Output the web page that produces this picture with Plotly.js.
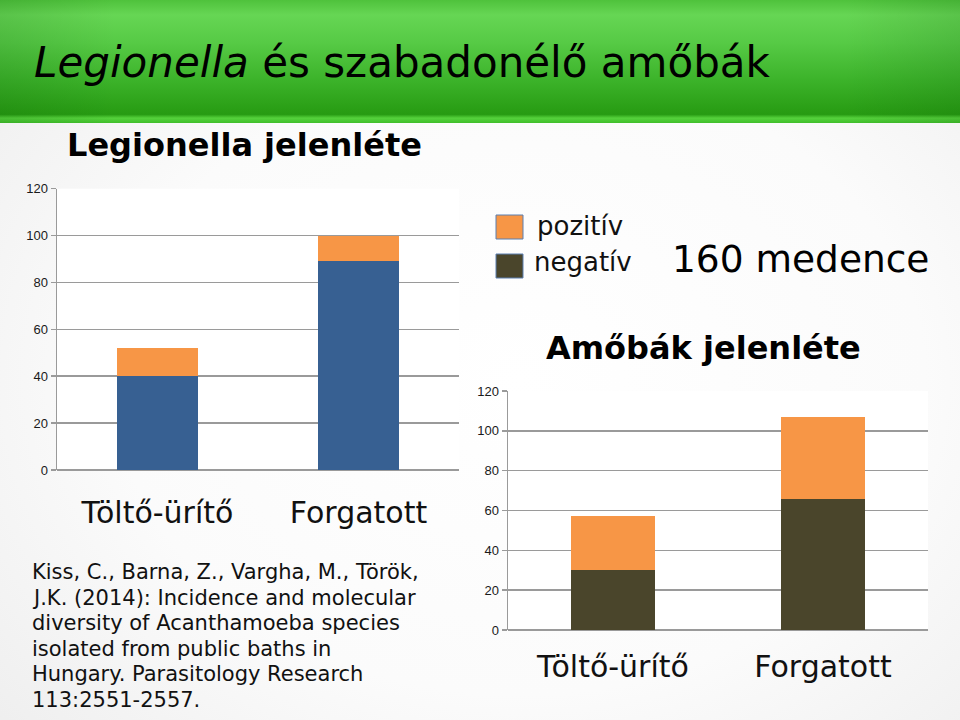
<!DOCTYPE html>
<html>
<head>
<meta charset="utf-8">
<script src="https://cdn.plot.ly/plotly-3.0.1.min.js"></script>
<style>
  html, body { margin: 0; padding: 0; width: 960px; height: 720px; overflow: hidden; }
  body {
    background: radial-gradient(ellipse 900px 700px at 520px 380px, #ffffff 0%, #fbfbfb 45%, #ededed 80%, #e2e2e2 100%);
  }
  #banner {
    position: absolute; left: 0; top: 0; width: 960px; height: 123px;
    background: linear-gradient(to bottom, #4fc23c 0%, #66d654 12%, #56ca45 35%, #3cb32a 65%, #279b12 93%, #55d23c 96%, #40bf2b 100%);
  }
  #banner::after {
    content: ""; position: absolute; left: 0; top: 0; width: 960px; height: 123px;
    background: linear-gradient(to right, rgba(0,60,0,0.12) 0%, rgba(0,0,0,0) 12%, rgba(0,0,0,0) 88%, rgba(0,60,0,0.12) 100%);
  }
  #chart { position: absolute; left: 0; top: 0; width: 960px; height: 720px; }
</style>
</head>
<body>
<div id="banner"></div>
<div id="chart"></div>
<script>
// ---- data ----
const categories = ['Töltő-ürítő', 'Forgatott'];
const legionellaNegativ = [40, 89];
const legionellaPozitiv = [12, 11];
const amobaNegativ = [30, 66];
const amobaPozitiv = [27, 41];
const yTicks = [0, 20, 40, 60, 80, 100, 120];
const legendLabels = ['pozitív', 'negatív'];
const citationLines = [
  'Kiss, C., Barna, Z., Vargha, M., Török,',
  'J.K. (2014): Incidence and molecular',
  'diversity of Acanthamoeba species',
  'isolated from public baths in',
  'Hungary. Parasitology Research',
  '113:2551-2557.'
];

const ORANGE = '#F79646';
const BLUE = '#376092';
const BROWN = '#4A452B';
const GRID = '#9a9a9a';

const traces = [
  { type: 'bar', x: categories, y: legionellaNegativ, xaxis: 'x', yaxis: 'y',
    marker: { color: BLUE }, showlegend: false, hoverinfo: 'skip' },
  { type: 'bar', x: categories, y: legionellaPozitiv, xaxis: 'x', yaxis: 'y',
    marker: { color: ORANGE }, showlegend: false, hoverinfo: 'skip' },
  { type: 'bar', x: categories, y: amobaNegativ, xaxis: 'x2', yaxis: 'y2',
    marker: { color: BROWN }, showlegend: false, hoverinfo: 'skip' },
  { type: 'bar', x: categories, y: amobaPozitiv, xaxis: 'x2', yaxis: 'y2',
    marker: { color: ORANGE }, showlegend: false, hoverinfo: 'skip' }
];

const yAxisBase = {
  range: [0, 120], tickvals: yTicks, ticktext: yTicks.map(String),
  showgrid: true, gridcolor: GRID, gridwidth: 1.5,
  zeroline: true, zerolinecolor: GRID, zerolinewidth: 1.5,
  showline: true, linecolor: GRID, linewidth: 1.5,
  ticks: 'outside', ticklen: 5, tickcolor: GRID, tickwidth: 1.5,
  tickfont: { family: 'Liberation Sans, Arial, sans-serif', size: 13, color: '#1a1a1a' },
  fixedrange: true
};
const xAxisBase = {
  showgrid: false, zeroline: false, showline: false, ticks: '',
  tickfont: { family: 'DejaVu Sans, sans-serif', size: 30, color: '#111' },
  fixedrange: true
};

const ff = 'DejaVu Sans, sans-serif';
const annotations = [
  { text: '<i>Legionella</i> és szabadonélő amőbák', xref: 'paper', yref: 'paper',
    x: 32/960, y: 1 - 62/720, xanchor: 'left', yanchor: 'middle', showarrow: false,
    font: { family: ff, size: 42, color: '#000' } },
  { text: '<b>Legionella jelenléte</b>', xref: 'paper', yref: 'paper',
    x: 65/960, y: 1 - 145/720, xanchor: 'left', yanchor: 'middle', showarrow: false,
    font: { family: ff, size: 32, color: '#000' } },
  { text: '<b>Amőbák jelenléte</b>', xref: 'paper', yref: 'paper',
    x: 544/960, y: 1 - 348/720, xanchor: 'left', yanchor: 'middle', showarrow: false,
    font: { family: ff, size: 32, color: '#000' } },
  { text: legendLabels[0], xref: 'paper', yref: 'paper',
    x: 535/960, y: 1 - 226/720, xanchor: 'left', yanchor: 'middle', showarrow: false,
    font: { family: ff, size: 26, color: '#111' } },
  { text: legendLabels[1], xref: 'paper', yref: 'paper',
    x: 532/960, y: 1 - 262/720, xanchor: 'left', yanchor: 'middle', showarrow: false,
    font: { family: ff, size: 26, color: '#111' } },
  { text: '160 medence', xref: 'paper', yref: 'paper',
    x: 670/960, y: 1 - 259/720, xanchor: 'left', yanchor: 'middle', showarrow: false,
    font: { family: ff, size: 37.5, color: '#000' } }
];
citationLines.forEach(function (line, i) {
  annotations.push({ text: line, xref: 'paper', yref: 'paper',
    x: 30/960, y: 1 - (572 + i * 25.6)/720, xanchor: 'left', yanchor: 'middle',
    showarrow: false, font: { family: ff, size: 21, color: '#111' } });
});

const layout = {
  width: 960, height: 720,
  margin: { l: 0, r: 0, t: 0, b: 0 },
  paper_bgcolor: 'rgba(0,0,0,0)',
  plot_bgcolor: '#ffffff',
  barmode: 'stack',
  bargap: 0.6,
  showlegend: false,
  xaxis: Object.assign({}, xAxisBase, { domain: [57/960, 459/960], anchor: 'y', ticklabelstandoff: 22 }),
  yaxis: Object.assign({}, yAxisBase, { domain: [1 - 470/720, 1 - 188.7/720], anchor: 'x' }),
  xaxis2: Object.assign({}, xAxisBase, { domain: [508/960, 928/960], anchor: 'y2', ticklabelstandoff: 16 }),
  yaxis2: Object.assign({}, yAxisBase, { domain: [1 - 630/720, 1 - 391/720], anchor: 'x2' }),
  shapes: [
    { type: 'rect', xref: 'paper', yref: 'paper', x0: 496/960, x1: 523/960, y0: 1 - 239/720, y1: 1 - 215/720,
      fillcolor: ORANGE, line: { color: '#5b7fb0', width: 1 } },
    { type: 'rect', xref: 'paper', yref: 'paper', x0: 496/960, x1: 523/960, y0: 1 - 278/720, y1: 1 - 254/720,
      fillcolor: BROWN, line: { color: '#5b7fb0', width: 1 } }
  ],
  annotations: annotations
};

Plotly.newPlot('chart', traces, layout, { staticPlot: true, displayModeBar: false });
</script>
</body>
</html>
